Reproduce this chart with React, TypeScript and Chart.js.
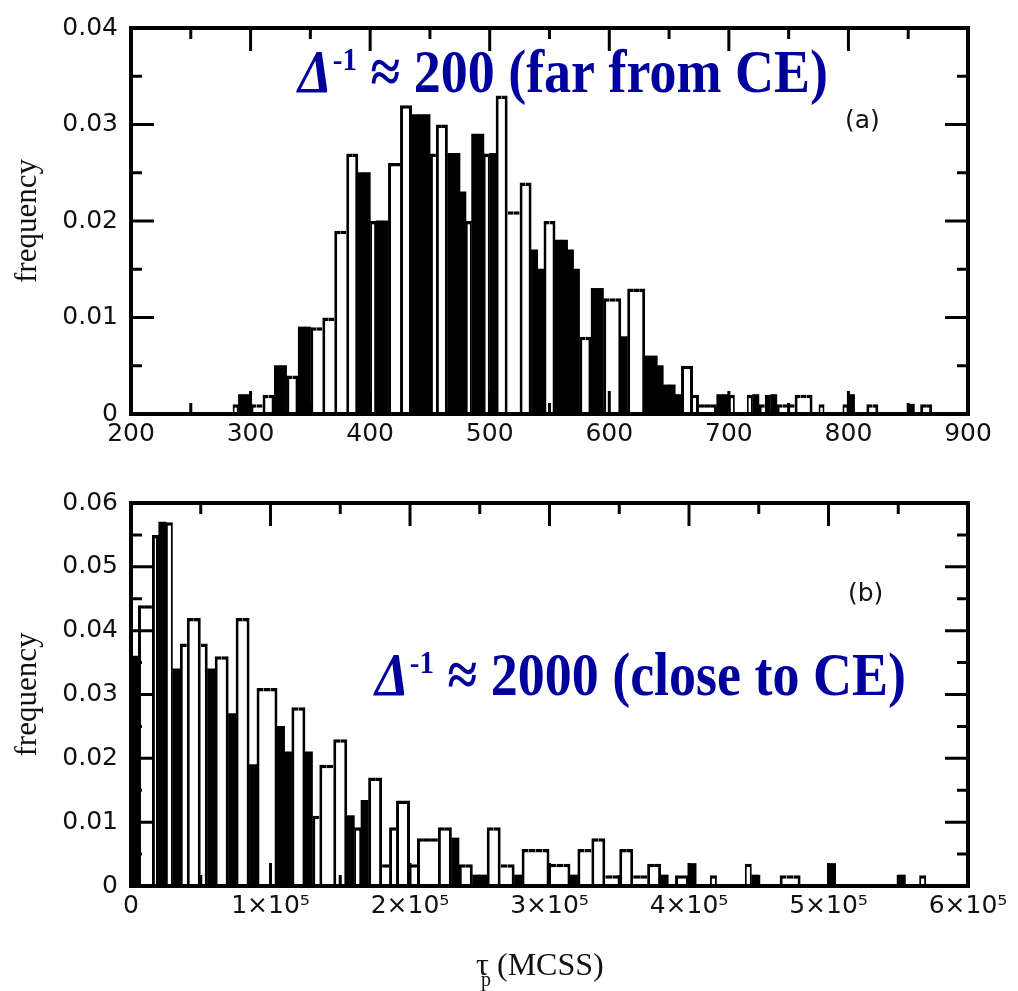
import React, { useEffect, useRef } from 'react';
import { Chart, registerables } from 'chart.js';

Chart.register(...registerables);

// ---------- Panel (a): Δ⁻¹ ≈ 200 (far from CE) ----------
const binStartA = 285;
const binWidthA = 5;
// open (white) histogram, frequency per bin
const openA = [
  0.001, 0, 0, 0.001, 0.001, 0.002, 0.002, 0, 0, 0.004,
  0.004, 0, 0, 0.009, 0.009, 0.010, 0.010, 0.019, 0.019, 0.027,
  0.027, 0, 0, 0.020, 0, 0, 0.026, 0.026, 0.032, 0.032,
  0, 0, 0, 0.027, 0.030, 0.030, 0, 0, 0, 0.020,
  0, 0, 0.027, 0, 0.033, 0.033, 0.021, 0.021, 0.024, 0.024,
  0, 0, 0.020, 0.020, 0, 0, 0, 0, 0.008, 0.008,
  0, 0, 0.012, 0.012, 0.012, 0, 0.013, 0.013, 0.013, 0,
  0, 0, 0, 0, 0, 0.005, 0.005, 0.002, 0.001, 0.001,
  0.001, 0, 0, 0.002, 0, 0, 0.002, 0, 0.001, 0.002,
  0, 0.001, 0.001, 0.001, 0.002, 0.002, 0.002, 0, 0.001, 0,
  0, 0, 0.001, 0, 0, 0, 0.001, 0.001, 0, 0,
  0, 0, 0, 0, 0, 0.001, 0.001, 0,
];
// filled (black) histogram
const filledA = [
  0, 0.002, 0.002, 0, 0, 0, 0, 0.005, 0.005, 0,
  0, 0.009, 0.009, 0, 0, 0, 0, 0, 0, 0,
  0, 0.025, 0.025, 0, 0.020, 0.020, 0, 0, 0, 0,
  0.031, 0.031, 0.031, 0, 0, 0, 0.027, 0.027, 0.023, 0,
  0.029, 0.029, 0, 0.027, 0, 0, 0, 0, 0, 0,
  0.017, 0.015, 0, 0, 0.018, 0.018, 0.017, 0.015, 0, 0,
  0.013, 0.013, 0, 0, 0, 0.008, 0, 0, 0, 0.006,
  0.006, 0.005, 0.003, 0.003, 0.002, 0, 0, 0, 0, 0,
  0, 0.002, 0.002, 0, 0, 0, 0, 0.002, 0, 0,
  0.002, 0, 0, 0, 0, 0, 0, 0, 0, 0,
  0, 0, 0, 0.002, 0, 0, 0, 0, 0, 0,
  0, 0, 0, 0.001, 0, 0, 0, 0,
];

// ---------- Panel (b): Δ⁻¹ ≈ 2000 (close to CE) ----------
const binStartB = 0;
const binWidthB = 5000;
const openB = [
  0, 0.044, 0.044, 0.055, 0, 0.057, 0, 0.038, 0.042, 0.042,
  0.038, 0, 0.036, 0.036, 0, 0.042, 0.042, 0, 0.031, 0.031,
  0.031, 0, 0, 0.028, 0.028, 0, 0.011, 0.019, 0.019, 0.023,
  0.023, 0, 0.0092, 0, 0.017, 0.017, 0.0034, 0.0092, 0.0134, 0.0134,
  0.0034, 0.0075, 0.0075, 0.0075, 0.0092, 0.0092, 0, 0.0034, 0.0034, 0,
  0, 0.0092, 0.0092, 0.0034, 0.0034, 0, 0.0058, 0.0058, 0.0058, 0.0058,
  0.0035, 0.0035, 0.0035, 0, 0.0058, 0.0058, 0.0075, 0.0075, 0.0017, 0.0017,
  0.0058, 0.0058, 0.0017, 0.0017, 0.0035, 0.0035, 0, 0, 0.0017, 0.0017,
  0, 0, 0, 0.0017, 0, 0, 0, 0, 0.0035, 0,
  0, 0, 0, 0.0017, 0.0017, 0.0017, 0, 0, 0, 0,
  0, 0, 0, 0, 0, 0, 0, 0, 0, 0,
  0, 0, 0, 0.0017, 0,
];
const filledB = [
  0.036, 0, 0, 0, 0.057, 0, 0.034, 0, 0, 0,
  0, 0.034, 0, 0, 0.027, 0, 0, 0.019, 0, 0,
  0, 0.025, 0.021, 0, 0, 0.021, 0, 0, 0, 0,
  0, 0.011, 0, 0.0134, 0, 0, 0, 0, 0, 0,
  0, 0, 0, 0, 0, 0, 0.0075, 0, 0, 0.0017,
  0.0017, 0, 0, 0, 0, 0.0017, 0, 0, 0, 0,
  0, 0, 0, 0.0017, 0, 0, 0, 0, 0, 0,
  0, 0, 0, 0, 0, 0, 0.0017, 0, 0, 0,
  0.0035, 0, 0, 0, 0, 0, 0, 0, 0, 0.0017,
  0, 0, 0, 0, 0, 0, 0, 0, 0, 0,
  0.0035, 0, 0, 0, 0, 0, 0, 0, 0, 0,
  0.0017, 0, 0, 0, 0,
];

const yTitle = 'frequency';
const xTitleSymbol = 'τ';
const xTitleSub = 'p';
const xTitleUnit = '(MCSS)';

const BLUE = '#00009c';

type Spec = {
  binStart: number; binWidth: number; open: number[]; filled: number[];
  xMin: number; xMax: number; xStep: number; yMax: number; yStep: number;
  fmtX: (v: number) => string;
  canvasTop: number; canvasH: number; padTop: number; xAxisH: number;
  title: { x: number; y: number; num: string; rest: string };
  tag: { x: number; y: number; text: string };
  xTitle?: { x: number; y: number };
};

const specA: Spec = {
  binStart: binStartA, binWidth: binWidthA, open: openA, filled: filledA,
  xMin: 200, xMax: 900, xStep: 100, yMax: 0.04, yStep: 0.01,
  fmtX: (v) => String(v),
  canvasTop: 0, canvasH: 475, padTop: 23, xAxisH: 61,
  title: { x: 298, y: 92, num: '200', rest: '(far from CE)' },
  tag: { x: 845, y: 121, text: '(a)' },
};

const specB: Spec = {
  binStart: binStartB, binWidth: binWidthB, open: openB, filled: filledB,
  xMin: 0, xMax: 600000, xStep: 100000, yMax: 0.06, yStep: 0.01,
  fmtX: (v) => (v === 0 ? '0' : `${Math.round(v / 100000)}×10⁵`),
  canvasTop: 475, canvasH: 516, padTop: 20, xAxisH: 105,
  title: { x: 375, y: 220, num: '2000', rest: '(close to CE)' },
  tag: { x: 848, y: 119, text: '(b)' },
  xTitle: { x: 476, y: 500 },
};

const frameTicks = {
  id: 'frameTicks',
  afterDatasetsDraw(chart: any) {
    const { ctx, chartArea: a } = chart;
    const xs = chart.scales.x;
    const ys = chart.scales.y;
    const xv: number[] = xs.ticks.map((t: any) => t.value);
    const yv: number[] = ys.ticks.map((t: any) => t.value);
    ctx.save();
    ctx.strokeStyle = '#000';
    ctx.lineWidth = 3;
    const vt = (v: number, len: number) => {
      const p = xs.getPixelForValue(v);
      ctx.beginPath();
      ctx.moveTo(p, a.bottom); ctx.lineTo(p, a.bottom - len);
      ctx.moveTo(p, a.top); ctx.lineTo(p, a.top + len);
      ctx.stroke();
    };
    const ht = (v: number, len: number) => {
      const p = ys.getPixelForValue(v);
      ctx.beginPath();
      ctx.moveTo(a.left, p); ctx.lineTo(a.left + len, p);
      ctx.moveTo(a.right, p); ctx.lineTo(a.right - len, p);
      ctx.stroke();
    };
    xv.forEach((v, i) => {
      vt(v, 23);
      if (i < xv.length - 1) vt((v + xv[i + 1]) / 2, 11);
    });
    yv.forEach((v, i) => {
      ht(v, 23);
      if (i < yv.length - 1) ht((v + yv[i + 1]) / 2, 11);
    });
    ctx.lineWidth = 4;
    ctx.strokeRect(a.left, a.top, a.right - a.left, a.bottom - a.top);
    ctx.restore();
  },
  afterDraw(chart: any, _args: any, opts: any) {
    const { ctx } = chart;
    const s: Spec = opts.spec;
    ctx.save();
    // blue annotation
    ctx.translate(s.title.x, s.title.y);
    ctx.scale(1, 1.12);
    ctx.fillStyle = BLUE;
    ctx.textAlign = 'left';
    ctx.textBaseline = 'alphabetic';
    let cx = 0;
    ctx.font = 'italic bold 54px "Liberation Serif"';
    ctx.fillText('Δ', cx, 0);
    cx += ctx.measureText('Δ').width + 1;
    ctx.font = 'bold 29px "Liberation Serif"';
    ctx.fillText('-1', cx, -20);
    cx += ctx.measureText('-1').width;
    ctx.font = 'bold 54px "Liberation Serif"';
    ctx.fillText(` ≈ ${s.title.num} ${s.title.rest}`, cx, 0);
    ctx.restore();

    ctx.save();
    ctx.fillStyle = '#111';
    ctx.textAlign = 'left';
    ctx.textBaseline = 'middle';
    ctx.font = '25px "DejaVu Sans"';
    ctx.fillText(s.tag.text, s.tag.x, s.tag.y);
    if (s.xTitle) {
      ctx.textBaseline = 'alphabetic';
      ctx.font = '32px "Liberation Serif"';
      ctx.fillText(xTitleSymbol, s.xTitle.x, s.xTitle.y);
      ctx.font = '20px "Liberation Serif"';
      ctx.fillText(xTitleSub, s.xTitle.x + 5, s.xTitle.y + 11);
      ctx.font = '32px "Liberation Serif"';
      ctx.fillText(xTitleUnit, s.xTitle.x + 21, s.xTitle.y);
    }
    ctx.restore();
  },
};

function buildConfig(s: Spec): any {
  const center = (i: number) => s.binStart + s.binWidth * (i + 0.5);
  const open = s.open;
  const tickFont = { family: 'DejaVu Sans', size: 25 };
  return {
    type: 'bar',
    data: {
      datasets: [
        {
          label: 'filled',
          data: s.filled.map((v, i) => ({ x: center(i), y: v > 0 ? v : null })),
          backgroundColor: '#000',
          borderWidth: 0,
          inflateAmount: 0.5,
          grouped: false,
          barPercentage: 1,
          categoryPercentage: 1,
        },
        {
          label: 'open',
          data: open.map((v, i) => ({ x: center(i), y: v > 0 ? v : null })),
          backgroundColor: '#fff',
          borderColor: '#000',
          borderWidth: (c: any) => {
            const i = c.dataIndex;
            const h = open[i] || 0;
            const prev = open[i - 1] || 0;
            const next = open[i + 1] || 0;
            const isolated = prev === 0 && next === 0;
            const side = isolated ? 2 : 3;
            return { top: 3.5, bottom: 0, left: prev >= h ? 0 : side, right: next >= h ? 0 : side };
          },
          inflateAmount: 0,
          grouped: false,
          barPercentage: 1,
          categoryPercentage: 1,
        },
      ],
    },
    options: {
      responsive: false,
      animation: false,
      devicePixelRatio: 1,
      layout: { padding: { top: s.padTop, right: 50, left: 0, bottom: 0 } },
      plugins: {
        legend: { display: false },
        tooltip: { enabled: false },
        frameTicks: { spec: s },
      },
      scales: {
        x: {
          type: 'linear',
          min: s.xMin,
          max: s.xMax,
          offset: false,
          grid: { display: false, drawTicks: false, offset: false },
          border: { display: false },
          ticks: {
            stepSize: s.xStep, autoSkip: false, maxRotation: 0, padding: 5,
            color: '#111', font: tickFont, callback: (v: any) => s.fmtX(Number(v)),
          },
          afterFit: (sc: any) => { sc.height = s.xAxisH; },
        },
        y: {
          type: 'linear',
          min: 0,
          max: s.yMax,
          grid: { display: false, drawTicks: false },
          border: { display: false },
          ticks: { stepSize: s.yStep, padding: 13, color: '#111', font: tickFont },
          title: {
            display: true, text: yTitle, color: '#111',
            font: { family: 'Liberation Serif', size: 31 },
            padding: { top: 9, bottom: 0 },
          },
          afterFit: (sc: any) => { sc.width = 131; },
        },
      },
    },
    plugins: [frameTicks],
  };
}

function Panel({ spec }: { spec: Spec }) {
  const ref = useRef<HTMLCanvasElement>(null);
  useEffect(() => {
    if (!ref.current) return;
    const chart = new Chart(ref.current, buildConfig(spec));
    return () => chart.destroy();
  }, [spec]);
  return (
    <canvas
      ref={ref}
      width={1018}
      height={spec.canvasH}
      style={{ position: 'absolute', left: 0, top: spec.canvasTop, width: 1018, height: spec.canvasH }}
    />
  );
}

export default function App() {
  return (
    <div style={{ position: 'absolute', left: 0, top: 0, width: 1018, height: 991, background: '#fff' }}>
      <Panel spec={specA} />
      <Panel spec={specB} />
    </div>
  );
}
